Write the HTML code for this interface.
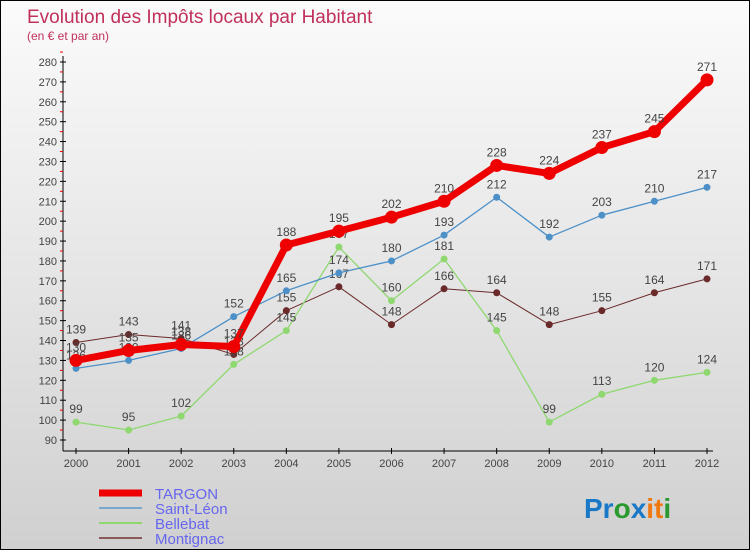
<!DOCTYPE html>
<html><head><meta charset="utf-8"><style>
body{margin:0}
#c{width:750px;height:550px;position:relative;border:1px solid #000;box-sizing:border-box;background:linear-gradient(#fbfbfb,#d0d0d0);font-family:"Liberation Sans",sans-serif;overflow:hidden}
</style></head><body>
<div id="c">
<svg id="s" width="750" height="550" style="position:absolute;left:0;top:0">
<text x="26" y="22" font-size="19" fill="#c0305a">Evolution des Impôts locaux par Habitant</text>
<text x="26" y="39" font-size="12" fill="#c0305a">(en € et par an)</text>
<g id="ax"></g><g id="ser"></g><g id="leg"></g>
<text x="583" y="517" font-size="28" font-weight="bold"><tspan fill="#1a78c8">Pr</tspan><tspan fill="#2a9a30">o</tspan><tspan fill="#1a78c8">x</tspan><tspan fill="#f07a10">it</tspan><tspan fill="#2a9a30">i</tspan></text>
</svg>
</div>
<script>
const years=[2000,2001,2002,2003,2004,2005,2006,2007,2008,2009,2010,2011,2012];
const targon=[130,135,138,137,188,195,202,210,228,224,237,245,271];
const saintLeon=[126,130,136,152,165,174,180,193,212,192,203,210,217];
const bellebat=[99,95,102,128,145,187,160,181,145,99,113,120,124];
const montignac=[139,143,141,133,155,167,148,166,164,148,155,164,171];
const yTicks=[90,100,110,120,130,140,150,160,170,180,190,200,210,220,230,240,250,260,270,280];
const NS="http://www.w3.org/2000/svg";
const X=i=>75+i*(706-75)/(years.length-1);
const Y=v=>439-(v-90)*(439-61)/190;
function mk(t,a,p){const e=document.createElementNS(NS,t);for(const k in a)e.setAttribute(k,a[k]);p.appendChild(e);return e;}
const ax=document.getElementById('ax');
let l=mk('line',{x1:62,y1:55,x2:62,y2:450,stroke:'#000'},ax);


l=mk('line',{x1:62,y1:450,x2:712,y2:450,stroke:'#000'},ax);


yTicks.forEach(v=>{
 mk('line',{x1:59,x2:65,y1:Y(v),y2:Y(v),stroke:'#000'},ax);
 mk('line',{x1:59,x2:62,y1:Y(v+5),y2:Y(v+5),stroke:'#e00'},ax);
 const t=mk('text',{x:56,y:Y(v)+4,'font-size':11,fill:'#444','text-anchor':'end'},ax);t.textContent=v;
 
 
});
years.forEach((y,i)=>{
 mk('line',{x1:X(i),x2:X(i),y1:447,y2:453,stroke:'#000'},ax);
 const t=mk('text',{x:X(i),y:466,'font-size':11,fill:'#444','text-anchor':'middle'},ax);t.textContent=y;
 
 
});
const series=[
 {n:'Montignac',d:montignac,c:'#6b2a2a',w:1,r:3.5},
 {n:'Bellebat',d:bellebat,c:'#8fd870',w:1.3,r:3.5},
 {n:'Saint-Léon',d:saintLeon,c:'#4d90c8',w:1.3,r:3.5},
 {n:'TARGON',d:targon,c:'#ee0000',w:7,r:6.5}];
const sg=document.getElementById('ser');
series.forEach(s=>{
 const g=mk('g',{},sg);
 
 
 mk('polyline',{points:s.d.map((v,i)=>X(i)+','+Y(v)).join(' '),fill:'none',stroke:s.c,'stroke-width':s.w,'stroke-linejoin':'round'},g);
 s.d.forEach((v,i)=>{
  const c=mk('circle',{cx:X(i),cy:Y(v),r:s.r,fill:s.c},g);
  
  
  const t=mk('text',{x:X(i),y:Y(v)-9,'font-size':12,fill:'#444','text-anchor':'middle'},g);t.textContent=v;
  
  
 });
});
const lg=document.getElementById('leg');
[{n:'TARGON',c:'#ee0000',w:7},{n:'Saint-Léon',c:'#7aa8cc',w:2},{n:'Bellebat',c:'#8fd870',w:2},{n:'Montignac',c:'#8a5a5a',w:2}].forEach((s,i)=>{
 const y=492+i*15;
 const ln=mk('line',{x1:98,x2:141,y1:y,y2:y,stroke:s.c,'stroke-width':s.w},lg);
 
 
 const t=mk('text',{x:154,y:y+6,'font-size':15,fill:'#6666ee'},lg);t.textContent=s.n;
 
 
});
</script>
</body></html>
